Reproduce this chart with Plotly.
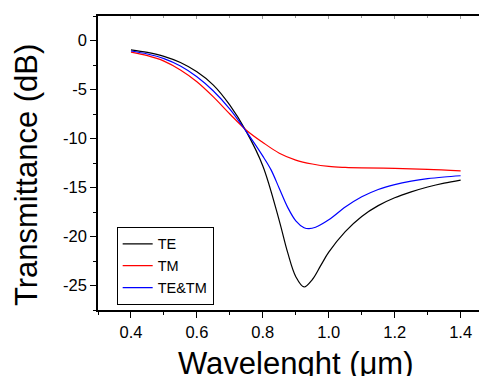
import plotly.graph_objects as go

# wavelength (um) sample points and transmittance (dB) for each series
wl_te = [0.40, 0.45, 0.50, 0.55, 0.60, 0.65, 0.70, 0.75, 0.80, 0.85, 0.875, 0.90, 0.925, 0.95, 0.975, 1.00, 1.05, 1.10, 1.15, 1.20, 1.25, 1.30, 1.35, 1.40]
te = [-0.95, -1.22, -1.62, -2.25, -3.2, -4.55, -6.6, -9.3, -12.8, -18.4, -21.6, -24.1, -25.15, -24.4, -23.0, -21.6, -19.5, -17.95, -16.85, -16.05, -15.45, -14.95, -14.55, -14.24]

wl_tm = [0.40, 0.45, 0.50, 0.55, 0.60, 0.65, 0.70, 0.75, 0.80, 0.85, 0.90, 0.95, 1.00, 1.05, 1.10, 1.20, 1.30, 1.40]
tm = [-1.19, -1.55, -2.1, -3.0, -4.2, -5.75, -7.5, -9.15, -10.4, -11.5, -12.2, -12.6, -12.85, -12.95, -13.0, -13.05, -13.15, -13.3]

wl_tetm = [0.40, 0.45, 0.50, 0.55, 0.60, 0.65, 0.70, 0.75, 0.80, 0.825, 0.85, 0.875, 0.90, 0.925, 0.94, 0.96, 1.00, 1.05, 1.10, 1.15, 1.20, 1.25, 1.30, 1.35, 1.40]
tetm = [-1.07, -1.38, -1.85, -2.6, -3.7, -5.15, -7.0, -9.3, -11.8, -13.2, -15.1, -17.0, -18.4, -19.1, -19.2, -19.05, -18.3, -17.0, -15.95, -15.2, -14.7, -14.35, -14.1, -13.93, -13.8]

x_tick_vals = [0.4, 0.6, 0.8, 1.0, 1.2, 1.4]
x_tick_text = ["0.4", "0.6", "0.8", "1.0", "1.2", "1.4"]
y_tick_vals = [0, -5, -10, -15, -20, -25]
y_tick_text = ["0", "-5", "-10", "-15", "-20", "-25"]

FONT = "Arial, Liberation Sans, sans-serif"

fig = go.Figure()
fig.add_trace(go.Scatter(x=wl_te, y=te, name="TE", mode="lines",
                         line=dict(color="black", width=1.2, shape="spline", smoothing=1.0)))
fig.add_trace(go.Scatter(x=wl_tm, y=tm, name="TM", mode="lines",
                         line=dict(color="#ff0000", width=1.2, shape="spline", smoothing=1.0)))
fig.add_trace(go.Scatter(x=wl_tetm, y=tetm, name="TE&TM", mode="lines",
                         line=dict(color="#0000ff", width=1.2, shape="spline", smoothing=1.0)))
# invisible trace to carry top axis ticks
fig.add_trace(go.Scatter(x=[0.4], y=[0], xaxis="x2", mode="lines", showlegend=False,
                         hoverinfo="skip", line=dict(width=0)))

fig.update_layout(
    width=479, height=368,
    margin=dict(l=90, r=0, t=8, b=66),
    paper_bgcolor="white", plot_bgcolor="white",
    font=dict(family=FONT, color="black"),
    showlegend=True,
    legend=dict(x=0.048, y=0.15, xanchor="left", yanchor="middle",
                bordercolor="black", borderwidth=1, bgcolor="white",
                font=dict(size=14.5, family=FONT, color="black"),
                tracegroupgap=0, itemwidth=30),
    xaxis=dict(range=[0.3, 1.48], tickvals=x_tick_vals, ticktext=x_tick_text,
               showgrid=False, zeroline=False, showline=True, linecolor="black", linewidth=1.5,
               ticks="outside", ticklen=6, tickwidth=1.2, tickcolor="black",
               minor=dict(dtick=0.1, tick0=0.3, ticks="outside", ticklen=3, tickwidth=1, tickcolor="black"),
               tickfont=dict(size=16.5, family=FONT, color="black")),
    xaxis2=dict(range=[0.3, 1.48], overlaying="x", side="top", showgrid=False, zeroline=False,
                showline=True, linecolor="black", linewidth=1.5,
                showticklabels=False, tickvals=x_tick_vals, ticks="inside", ticklen=3,
                tickwidth=1, tickcolor="#999",
                minor=dict(dtick=0.1, tick0=0.3, ticks="inside", ticklen=2, tickcolor="#999")),
    yaxis=dict(range=[-27.5, 2.5], tickvals=y_tick_vals, ticktext=y_tick_text,
               showgrid=False, zeroline=False, showline=True, linecolor="black", linewidth=1.5,
               ticks="outside", ticklen=6, tickwidth=1.2, tickcolor="black",
               minor=dict(dtick=2.5, tick0=0, ticks="outside", ticklen=3, tickwidth=1, tickcolor="black"),
               tickfont=dict(size=16.5, family=FONT, color="black")),
    annotations=[
        dict(text="Transmittance (dB)", xref="paper", yref="paper", x=-0.185, y=0.459,
             xanchor="center", yanchor="middle", textangle=-90, showarrow=False,
             font=dict(size=31, family=FONT, color="black")),
        dict(text="Wavelenght (\u03bcm)", xref="paper", yref="paper", x=0.509, y=-0.182,
             xanchor="center", yanchor="middle", showarrow=False,
             font=dict(size=31, family=FONT, color="black")),
    ],
)

fig.write_html("out.html")
